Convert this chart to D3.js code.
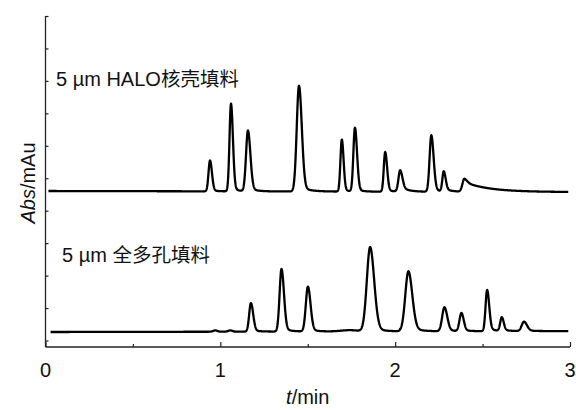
<!DOCTYPE html>
<html><head><meta charset="utf-8">
<script src="https://cdn.jsdelivr.net/npm/d3@7"></script>
<style>
html,body{margin:0;padding:0;background:#fff;}
svg text{font-family:"Liberation Sans",Arial,"Noto Sans CJK SC",sans-serif;fill:#111;}
</style></head>
<body>
<svg id="c" width="576" height="410"></svg>
<script>
// ---- data ----
const xDomain = [0, 3];
const yDomain = [-0.2, 10];
const xMajorTicks = [0, 1, 2, 3];
const xMinorTicks = [0.5, 1.5, 2.5];
const xTickLabels = ["0", "1", "2", "3"];
const yTicks = [0, 1, 2, 3, 4, 5, 6, 7, 8, 9, 10];

// top chromatogram: 5 µm HALO core-shell
const topLabel = ["5 µm HALO", "核壳填料"];
const topRange = [0.017, 2.99];
const topBaseline = [4.607, 4.575];
const topTimes   = [0.941, 1.061, 1.158, 1.450, 1.695, 1.770, 1.943, 2.029, 2.207, 2.278, 2.396];
const topHeights = [0.95, 2.70, 1.87, 3.26, 1.60, 1.96, 1.22, 0.66, 1.74, 0.62, 0.40];
const topSigmaL  = [0.0085, 0.0085, 0.011, 0.013, 0.008, 0.009, 0.008, 0.010, 0.010, 0.008, 0.011];
const topSigmaR  = [0.011, 0.011, 0.014, 0.016, 0.010, 0.012, 0.011, 0.013, 0.013, 0.011, 0.016];
const topTailAmp = [0.05, 0.05, 0.06, 0.05, 0.05, 0.05, 0.06, 0.25, 0.08, 0.15, 0.75];
const topTailTau = [0.03, 0.03, 0.04, 0.05, 0.03, 0.03, 0.03, 0.04, 0.03, 0.04, 0.14];

// bottom chromatogram: 5 µm fully porous
const bottomLabel = ["5 µm ", "全多孔填料"];
const bottomRange = [0.029, 2.99];
const bottomBaseline = [0.262, 0.29];
const bottomTimes   = [0.971, 1.057, 1.175, 1.350, 1.501, 1.740, 1.857, 2.076, 2.282, 2.379, 2.526, 2.610, 2.737];
const bottomHeights = [0.04, 0.04, 0.88, 1.93, 1.38, 0.04, 2.60, 1.85, 0.74, 0.56, 1.27, 0.42, 0.29];
const bottomSigmaL  = [0.012, 0.012, 0.010, 0.011, 0.012, 0.050, 0.019, 0.018, 0.013, 0.011, 0.009, 0.009, 0.013];
const bottomSigmaR  = [0.012, 0.012, 0.013, 0.014, 0.015, 0.050, 0.023, 0.022, 0.016, 0.013, 0.012, 0.011, 0.017];
const bottomTailAmp = [0, 0, 0.06, 0.06, 0.06, 0, 0.06, 0.08, 0.08, 0.08, 0.08, 0.1, 0.1];
const bottomTailTau = [0.03, 0.03, 0.04, 0.04, 0.04, 0.03, 0.05, 0.05, 0.04, 0.04, 0.04, 0.04, 0.05];

// ---- drawing ----
const svg = d3.select("#c");
const x = d3.scaleLinear().domain(xDomain).range([45.5, 570]);
const y = d3.scaleLinear().domain(yDomain).range([347, 16]);

function peakValue(t, t0, h, sl, sr, ta, tau) {
  const d = t - t0;
  if (d < 0) return h * Math.exp(-0.5 * (d / sl) ** 2);
  const g = Math.exp(-0.5 * (d / sr) ** 2);
  const e = Math.exp(-d / tau);
  return h * ((1 - ta) * g + ta * e);
}
function trace(range, base, times, heights, sl, sr, ta, tau) {
  const pts = [];
  const n = Math.round((range[1] - range[0]) / 0.001);
  for (let i = 0; i <= n; i++) {
    const t = range[0] + (range[1] - range[0]) * i / n;
    let v = base[0] + (base[1] - base[0]) * (t - range[0]) / (range[1] - range[0]);
    for (let k = 0; k < times.length; k++) v += peakValue(t, times[k], heights[k], sl[k], sr[k], ta[k], tau[k]);
    pts.push([t, v]);
  }
  return pts;
}
const line = d3.line().x(d => x(d[0])).y(d => y(d[1]));

const topPts = trace(topRange, topBaseline, topTimes, topHeights, topSigmaL, topSigmaR, topTailAmp, topTailTau);
const botPts = trace(bottomRange, bottomBaseline, bottomTimes, bottomHeights, bottomSigmaL, bottomSigmaR, bottomTailAmp, bottomTailTau);

svg.append("path").attr("d", line(topPts)).attr("fill", "none").attr("stroke", "#000").attr("stroke-width", 2.3).attr("stroke-linejoin", "round");
svg.append("path").attr("d", line(botPts)).attr("fill", "none").attr("stroke", "#000").attr("stroke-width", 2.3).attr("stroke-linejoin", "round");

// axes
const axisColor = "#222";
const yAxis = d3.axisRight(y).tickValues(yTicks).tickSize(3).tickFormat("");
const gy = svg.append("g").attr("transform", `translate(${x(0)},0)`).call(yAxis);
gy.select(".domain").attr("d", `M0,${y(yDomain[1])}V${y(yDomain[0])}`).attr("stroke", axisColor).attr("stroke-width", 1.3);
gy.selectAll(".tick line").attr("stroke", axisColor).attr("stroke-width", 1.2);

const xAxis = d3.axisTop(x).tickValues(xMajorTicks).tickSize(5).tickFormat("");
const gx = svg.append("g").attr("transform", `translate(0,${y(yDomain[0])})`).call(xAxis);
gx.select(".domain").attr("d", `M${x(xDomain[0])},0H${x(xDomain[1])}`).attr("stroke", axisColor).attr("stroke-width", 1.3);
gx.selectAll(".tick line").attr("stroke", axisColor).attr("stroke-width", 1.2);
const xAxisMinor = d3.axisTop(x).tickValues(xMinorTicks).tickSize(3).tickFormat("");
const gxm = svg.append("g").attr("transform", `translate(0,${y(yDomain[0])})`).call(xAxisMinor);
gxm.select(".domain").remove();
gxm.selectAll(".tick line").attr("stroke", axisColor).attr("stroke-width", 1.2);

// tick labels
svg.append("g").selectAll("text").data(xMajorTicks).join("text")
  .attr("x", d => x(d)).attr("y", 377).attr("text-anchor", "middle")
  .attr("font-size", 20).text((d, i) => xTickLabels[i]);

// axis titles
const xt = svg.append("text").attr("x", (x(0) + x(3)) / 2).attr("y", 404).attr("text-anchor", "middle").attr("font-size", 20);
xt.append("tspan").attr("font-style", "italic").text("t");
xt.append("tspan").text("/min");

const yt = svg.append("text").attr("transform", "translate(35,183) rotate(-90)").attr("text-anchor", "middle").attr("font-size", 20);
yt.append("tspan").attr("font-style", "italic").text("Abs");
yt.append("tspan").text("/mAu");

// series labels
const tl = svg.append("text").attr("x", 56).attr("y", 86).attr("font-size", 20);
tl.append("tspan").text(topLabel[0]);
tl.append("tspan").attr("font-family", "'Noto Sans CJK SC'").attr("font-size", 19.5).text(topLabel[1]);

const bl = svg.append("text").attr("x", 62).attr("y", 262).attr("font-size", 20);
bl.append("tspan").text(bottomLabel[0]);
bl.append("tspan").attr("font-family", "'Noto Sans CJK SC'").attr("font-size", 19.5).text(bottomLabel[1]);
</script>
</body></html>
